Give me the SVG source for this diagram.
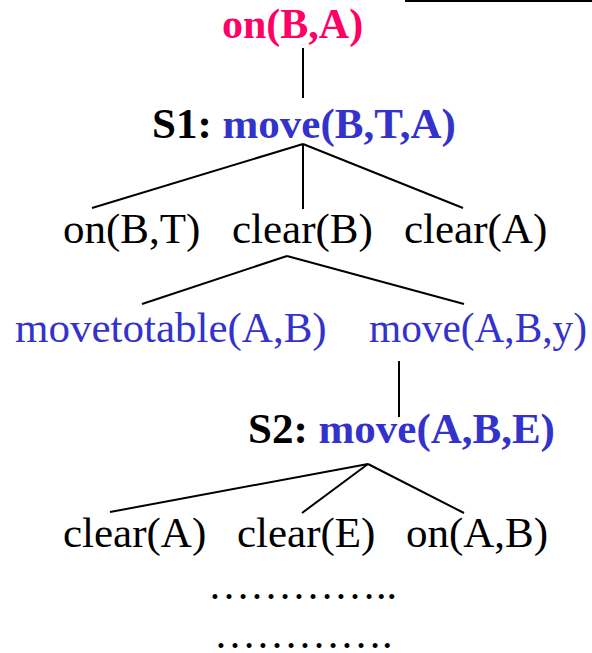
<svg xmlns="http://www.w3.org/2000/svg" width="592" height="653" viewBox="0 0 592 653">
<style>
text{font-family:"Liberation Serif","Times New Roman",serif;font-size:43px}
.b{font-weight:bold}
.pink{fill:#FF0066}
.blue{fill:#3333CC}
.blk{fill:#000}
.dots{font-size:42px}
.ln{stroke:#000;stroke-width:2;fill:none}
</style>
<rect width="592" height="653" fill="#fff"/>
<line class="ln" x1="405" y1="1" x2="592" y2="1"/>
<g id="connectors">
<line class="ln" x1="303" y1="48" x2="303" y2="98"/>
<line class="ln" x1="303" y1="144" x2="92" y2="208"/>
<line class="ln" x1="303" y1="144" x2="303" y2="209"/>
<line class="ln" x1="303" y1="144" x2="463" y2="208"/>
<line class="ln" x1="287" y1="256" x2="142" y2="304"/>
<line class="ln" x1="287" y1="256" x2="464" y2="304"/>
<line class="ln" x1="399" y1="361" x2="399" y2="417"/>
<line class="ln" x1="368" y1="464" x2="110" y2="512"/>
<line class="ln" x1="368" y1="464" x2="302" y2="513"/>
<line class="ln" x1="368" y1="464" x2="464" y2="513"/>
</g>
<g id="goal"><text class="b pink" x="222" y="38" style="font-size:42px">on(B,A)</text></g>
<g id="s1"><text class="b" x="152" y="138"><tspan class="blk">S1: </tspan><tspan class="blue">move(B,T,A)</tspan></text></g>
<g id="onBT"><text x="63" y="243">on(B,T)</text></g>
<g id="clearB"><text x="232" y="243">clear(B)</text></g>
<g id="clearA1"><text x="404" y="243">clear(A)</text></g>
<g id="movetotable"><text class="blue" x="15" y="342">movetotable(A,B)</text></g>
<g id="moveABy"><text class="blue" x="369" y="342" textLength="218" lengthAdjust="spacingAndGlyphs">move(A,B,y)</text></g>
<g id="s2"><text class="b" x="248" y="443"><tspan class="blk">S2: </tspan><tspan class="blue">move(A,B,E)</tspan></text></g>
<g id="clearA2"><text x="63" y="547">clear(A)</text></g>
<g id="clearE"><text x="237" y="547">clear(E)</text></g>
<g id="onAB"><text x="406" y="547">on(A,B)</text></g>
<g id="dots1"><text class="dots" x="208" y="599">…………..</text></g>
<g id="dots2"><text class="dots" x="214" y="648">………….</text></g>
</svg>
